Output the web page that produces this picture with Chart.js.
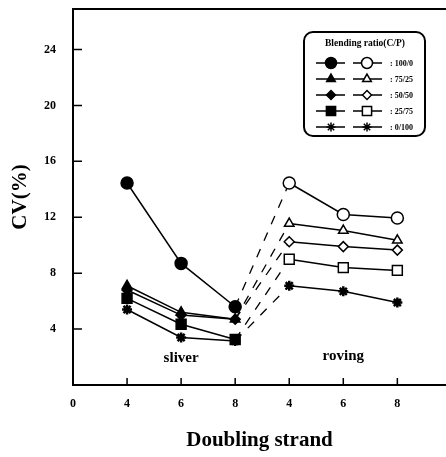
<!DOCTYPE html>
<html lang="en">
<head>
<meta charset="UTF-8">
<title>CV vs doubling strand</title>
<script src="https://cdn.jsdelivr.net/npm/chart.js"></script>
<style>
  body { margin: 0; background: #fff; }
</style>
</head>
<body>
<canvas id="cvChart" width="446" height="457"></canvas>
<script>
// axis labels (index 0 is the origin, 1-3 sliver, 4-6 roving)
const xLabels = ['0', '4', '6', '8', '4', '6', '8'];
const yTicks = [4, 8, 12, 16, 20, 24];
const ratios = ['100/0', '75/25', '50/50', '25/75', '0/100'];

// CV(%) at doubling 4, 6, 8
const sliver100 = [14.45, 8.7, 5.6];
const sliver75 = [7.1, 5.2, 4.7];
const sliver50 = [6.8, 5.0, 4.7];
const sliver25 = [6.2, 4.35, 3.25];
const sliver0 = [5.4, 3.4, 3.15];

const roving100 = [14.45, 12.2, 11.95];
const roving75 = [11.55, 11.05, 10.35];
const roving50 = [10.25, 9.9, 9.65];
const roving25 = [9.0, 8.4, 8.2];
const roving0 = [7.1, 6.7, 5.9];

const sliverCV = [sliver100, sliver75, sliver50, sliver25, sliver0];
const rovingCV = [roving100, roving75, roving50, roving25, roving0];

const SERIF = '"Liberation Serif", "DejaVu Serif", serif';
const markers = ['circle', 'triangle', 'rectRot', 'rect', 'star'];
const markerSize = [6, 5.5, 5, 7, 5];

const datasets = [];
ratios.forEach((r, i) => {
    const s = sliverCV[i], rv = rovingCV[i];
    datasets.push({
        label: 'sliver ' + r,
        data: s.map((v, k) => ({ x: k + 1, y: v })),
        borderColor: '#000', borderWidth: 1.5,
        pointStyle: markers[i], pointRadius: markerSize[i],
        pointBackgroundColor: '#000', pointBorderColor: '#000', pointBorderWidth: i === 4 ? 2.5 : 1.5,
        order: 0
    });
    datasets.push({
        label: 'roving ' + r,
        data: rv.map((v, k) => ({ x: k + 4, y: v })),
        borderColor: '#000', borderWidth: 1.5,
        pointStyle: markers[i], pointRadius: markerSize[i],
        pointBackgroundColor: i === 4 ? '#000' : '#fff', pointBorderColor: '#000', pointBorderWidth: i === 4 ? 2.5 : 1.5,
        order: 0
    });
    // dashed link sliver 8 -> roving 4
    datasets.push({
        label: 'link ' + r,
        data: [{ x: 3, y: s[2] }, { x: 4, y: rv[0] }],
        borderColor: '#000', borderWidth: 1.3, borderDash: [9, 9],
        pointRadius: 0,
        order: 1
    });
});

function drawMark(ctx, style, r, fill, x, y) {
    ctx.fillStyle = fill;
    ctx.strokeStyle = '#000';
    ctx.lineWidth = 1.5;
    if (Chart.helpers && Chart.helpers.drawPoint) {
        Chart.helpers.drawPoint(ctx, { pointStyle: style, radius: r, rotation: 0, borderWidth: 1.5 }, x, y);
    } else {
        ctx.beginPath(); ctx.arc(x, y, r, 0, Math.PI * 2); ctx.fill(); ctx.stroke();
    }
}

const decor = {
    id: 'decor',
    afterDraw(chart) {
        const { ctx, chartArea: a, scales: { x, y } } = chart;
        ctx.save();
        ctx.strokeStyle = '#000';
        // top frame line
        ctx.lineWidth = 2;
        ctx.beginPath();
        ctx.moveTo(a.left - 1, a.top);
        ctx.lineTo(chart.width, a.top);
        ctx.stroke();
        // inward tick marks
        ctx.lineWidth = 1.5;
        ctx.beginPath();
        yTicks.forEach(v => {
            const py = y.getPixelForValue(v);
            ctx.moveTo(a.left, py); ctx.lineTo(a.left + 9, py);
        });
        for (let i = 1; i < xLabels.length; i++) {
            const px = x.getPixelForValue(i);
            ctx.moveTo(px, a.bottom); ctx.lineTo(px, a.bottom - 7);
        }
        ctx.stroke();

        // region labels
        ctx.fillStyle = '#000';
        ctx.font = 'bold 15px ' + SERIF;
        ctx.textAlign = 'center';
        ctx.textBaseline = 'middle';
        ctx.fillText('sliver', x.getPixelForValue(2), y.getPixelForValue(1.95));
        ctx.fillText('roving', x.getPixelForValue(5), y.getPixelForValue(2.05));

        // legend box
        ctx.lineWidth = 2;
        ctx.beginPath();
        if (ctx.roundRect) ctx.roundRect(304, 32, 121, 104, 9);
        else ctx.rect(304, 32, 121, 104);
        ctx.stroke();
        ctx.font = 'bold 9.5px ' + SERIF;
        ctx.fillText('Blending ratio(C/P)', 365, 44);
        ratios.forEach((r, i) => {
            const ly = 63 + i * 16;
            ctx.lineWidth = 1.5;
            ctx.beginPath();
            ctx.moveTo(316, ly); ctx.lineTo(345, ly);
            ctx.moveTo(353, ly); ctx.lineTo(382, ly);
            ctx.stroke();
            drawMark(ctx, markers[i], markerSize[i] - 0.5, '#000', 331, ly);
            drawMark(ctx, markers[i], markerSize[i] - 0.5, i === 4 ? '#000' : '#fff', 367, ly);
            ctx.fillStyle = '#000';
            ctx.font = 'bold 8px ' + SERIF;
            ctx.textAlign = 'left';
            ctx.fillText(': ' + r, 390, ly + 1);
            ctx.textAlign = 'center';
        });
        ctx.restore();
    }
};

const ctx = document.getElementById('cvChart').getContext('2d');
new Chart(ctx, {
    type: 'line',
    data: { datasets },
    options: {
        responsive: false,
        animation: false,
        devicePixelRatio: 1,
        layout: { autoPadding: false, padding: { top: 9, right: 0, left: 0, bottom: 0 } },
        plugins: { legend: { display: false }, tooltip: { enabled: false } },
        scales: {
            x: {
                type: 'linear', min: 0, max: 6.9,
                afterBuildTicks: s => { s.ticks = xLabels.map((l, i) => ({ value: i })); },
                afterFit: s => { s.height = 72; s.paddingLeft = 0; s.paddingRight = 0; },
                ticks: {
                    callback: v => xLabels[v], color: '#000', padding: 4,
                    font: { family: SERIF, weight: 'bold', size: 12 }
                },
                grid: { display: false },
                border: { color: '#000', width: 2 },
                title: {
                    display: true, text: 'Doubling strand', color: '#000',
                    font: { family: SERIF, weight: 'bold', size: 21 },
                    padding: { top: 0, bottom: 4 }
                }
            },
            y: {
                min: 0, max: 26.9,
                afterBuildTicks: s => { s.ticks = yTicks.map(v => ({ value: v })); },
                afterFit: s => { s.width = 73; s.paddingTop = 0; s.paddingBottom = 0; },
                ticks: {
                    color: '#000', padding: 9,
                    font: { family: SERIF, weight: 'bold', size: 12 }
                },
                grid: { display: false },
                border: { color: '#000', width: 2 },
                title: {
                    display: true, text: 'CV(%)', color: '#000',
                    font: { family: SERIF, weight: 'bold', size: 21 },
                    padding: { top: 8, bottom: 0 }
                }
            }
        }
    },
    plugins: [decor]
});
</script>
</body>
</html>
